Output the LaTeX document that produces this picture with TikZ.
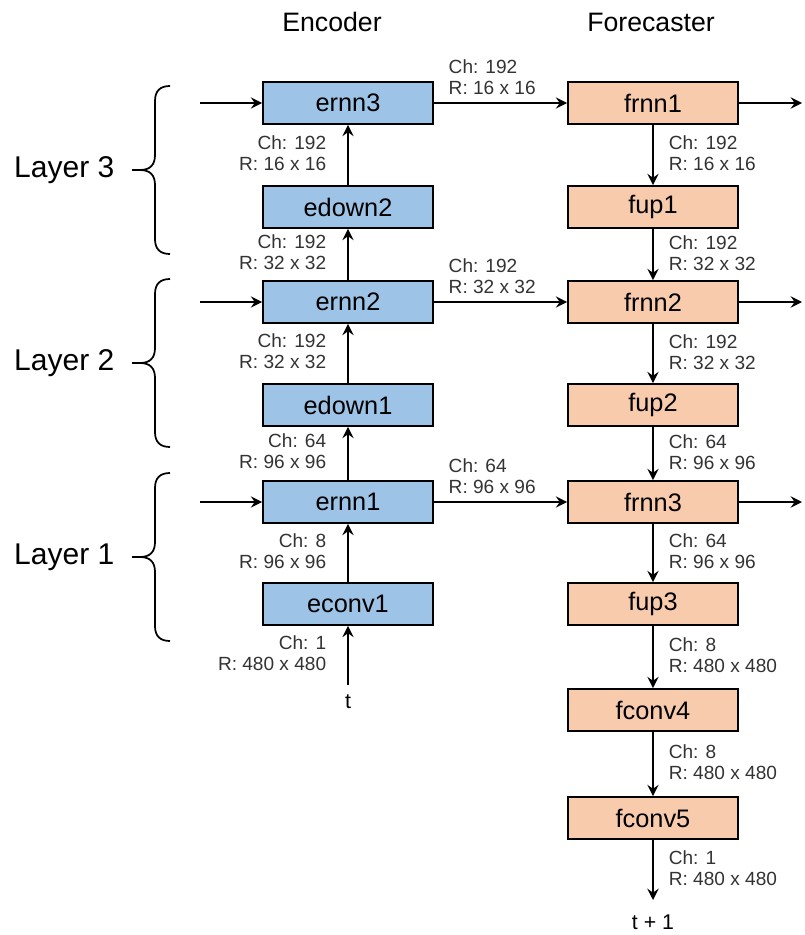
\documentclass[tikz,border=0pt]{standalone}
\usepackage{fontspec}
\setmainfont{Liberation Sans}
\usetikzlibrary{arrows.meta}

\definecolor{encblue}{HTML}{9DC3E6}
\definecolor{fcorange}{HTML}{F8CBAD}

\begin{document}
\begin{tikzpicture}[x=0.75pt,y=-0.75pt,
		box/.style={draw=black, line width=1.3pt, minimum width=127.5pt, minimum height=31.5pt, inner sep=0pt, font=\fontsize{19}{22}\selectfont},
		ebox/.style={box, fill=encblue},
		fbox/.style={box, fill=fcorange},
		arr/.style={line width=1.3pt, -{Stealth[length=8.5pt,width=8.5pt,inset=3pt]}},
		lbl/.style={inner sep=0pt, text=black!80, font=\fontsize{14.3}{15.75}\selectfont},
		elbl/.style={lbl, align=right, anchor=east, xshift=-15.75pt, yshift=1.5pt},
		flbl/.style={lbl, align=left, anchor=west, xshift=11.25pt, yshift=1pt},
		hlbl/.style={lbl, align=left, anchor=west, pos=0, xshift=10.5pt, yshift=19.5pt},
		brc/.style={line width=1.3pt}]
	\useasboundingbox (0,0) rectangle (804,935);
	% titles
	\node[font=\fontsize{20}{24}\selectfont] (enctitle) at (332,22) {Encoder};
	\node[font=\fontsize{20}{24}\selectfont] (fctitle) at (651,22) {Forecaster};
	% encoder
	\node[ebox] (ernn3) at (348,103) {ernn3};
	\node[ebox] (edown2) at (348,207) {edown2};
	\node[ebox] (ernn2) at (348,302) {ernn2};
	\node[ebox] (edown1) at (348,405) {edown1};
	\node[ebox] (ernn1) at (348,502) {ernn1};
	\node[ebox] (econv1) at (348,604) {econv1};
	% forecaster
	\node[fbox] (frnn1) at (653,103) {frnn1};
	\node[fbox] (fup1) at (653,207) {fup1};
	\node[fbox] (frnn2) at (653,302) {frnn2};
	\node[fbox] (fup2) at (653,405) {fup2};
	\node[fbox] (frnn3) at (653,502) {frnn3};
	\node[fbox] (fup3) at (653,604) {fup3};
	\node[fbox] (fconv4) at (653,710) {fconv4};
	\node[fbox] (fconv5) at (653,818) {fconv5};
	% free ends
	\coordinate (in3) at (200,103);
	\coordinate (in2) at (200,302);
	\coordinate (in1) at (200,502);
	\coordinate (out1) at (802,103);
	\coordinate (out2) at (802,302);
	\coordinate (out3) at (802,502);
	\coordinate (tin) at (348,685);
	\coordinate (tout) at (653,900);
	\node[font=\fontsize{16}{19}\selectfont] (tlabel) at (348,702) {t};
	\node[font=\fontsize{16}{19}\selectfont] (t1label) at (653,922) {t + 1};
	% encoder arrows
	\draw[arr] (tin) -- node[elbl] {Ch: 1\\R: 480 x 480} (econv1);
	\draw[arr] (econv1) -- node[elbl] {Ch: 8\\R: 96 x 96} (ernn1);
	\draw[arr] (ernn1) -- node[elbl] {Ch: 64\\R: 96 x 96} (edown1);
	\draw[arr] (edown1) -- node[elbl] {Ch: 192\\R: 32 x 32} (ernn2);
	\draw[arr] (ernn2) -- node[elbl] {Ch: 192\\R: 32 x 32} (edown2);
	\draw[arr] (edown2) -- node[elbl] {Ch: 192\\R: 16 x 16} (ernn3);
	\draw[arr] (in3) -- (ernn3);
	\draw[arr] (in2) -- (ernn2);
	\draw[arr] (in1) -- (ernn1);
	% encoder to forecaster
	\draw[arr] (ernn3) -- node[hlbl] {Ch: 192\\R: 16 x 16} (frnn1);
	\draw[arr] (ernn2) -- node[hlbl] {Ch: 192\\R: 32 x 32} (frnn2);
	\draw[arr] (ernn1) -- node[hlbl] {Ch: 64\\R: 96 x 96} (frnn3);
	% forecaster arrows
	\draw[arr] (frnn1) -- node[flbl] {Ch: 192\\R: 16 x 16} (fup1);
	\draw[arr] (fup1) -- node[flbl] {Ch: 192\\R: 32 x 32} (frnn2);
	\draw[arr] (frnn2) -- node[flbl] {Ch: 192\\R: 32 x 32} (fup2);
	\draw[arr] (fup2) -- node[flbl] {Ch: 64\\R: 96 x 96} (frnn3);
	\draw[arr] (frnn3) -- node[flbl] {Ch: 64\\R: 96 x 96} (fup3);
	\draw[arr] (fup3) -- node[flbl] {Ch: 8\\R: 480 x 480} (fconv4);
	\draw[arr] (fconv4) -- node[flbl] {Ch: 8\\R: 480 x 480} (fconv5);
	\draw[arr] (fconv5) -- node[flbl] {Ch: 1\\R: 480 x 480} (tout);
	\draw[arr] (frnn1) -- (out1);
	\draw[arr] (frnn2) -- (out2);
	\draw[arr] (frnn3) -- (out3);
	% layers
	\node[anchor=east, font=\fontsize{22.5}{26}\selectfont] (layer3) at (119,170) {Layer 3};
	\node[anchor=east, font=\fontsize{22.5}{26}\selectfont] (layer2) at (119,363) {Layer 2};
	\node[anchor=east, font=\fontsize{22.5}{26}\selectfont] (layer1) at (119,557) {Layer 1};
	\draw[brc] (170,86) .. controls (160,86) and (155,91) .. (155,101) -- (155,155) .. controls (155,165) and (150,170) .. (140,170) -- (132,170);
	\draw[brc] (170,254) .. controls (160,254) and (155,249) .. (155,239) -- (155,185) .. controls (155,175) and (150,170) .. (140,170);
	\draw[brc] (170,279) .. controls (160,279) and (155,284) .. (155,294) -- (155,348) .. controls (155,358) and (150,363) .. (140,363) -- (132,363);
	\draw[brc] (170,447) .. controls (160,447) and (155,442) .. (155,432) -- (155,378) .. controls (155,368) and (150,363) .. (140,363);
	\draw[brc] (170,473) .. controls (160,473) and (155,478) .. (155,488) -- (155,542) .. controls (155,552) and (150,557) .. (140,557) -- (132,557);
	\draw[brc] (170,641) .. controls (160,641) and (155,636) .. (155,626) -- (155,572) .. controls (155,562) and (150,557) .. (140,557);
\end{tikzpicture}
\end{document}
